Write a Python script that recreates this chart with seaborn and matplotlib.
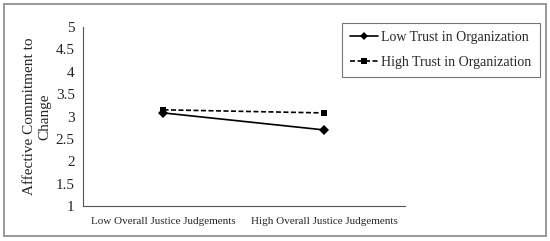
import pandas as pd
import matplotlib
matplotlib.use('Agg')
import matplotlib.pyplot as plt
import seaborn as sns
from matplotlib.patches import Rectangle
from matplotlib.ticker import FixedLocator
from matplotlib.lines import Line2D

# Data
categories = ['Low Overall Justice Judgements', 'High Overall Justice Judgements']
low_trust = [3.08, 2.70]
high_trust = [3.15, 3.08]
series_names = ['Low Trust in Organization', 'High Trust in Organization']

df = pd.DataFrame({
    'x': [0, 1, 0, 1],
    'y': low_trust + high_trust,
    'group': [series_names[0]] * 2 + [series_names[1]] * 2,
})

sns.set_style('white')
plt.rcParams['font.family'] = ['Liberation Serif', 'DejaVu Serif']

fig = plt.figure(figsize=(5.5, 2.41), dpi=100)
ax = fig.add_axes([0.151, 0.145, 0.585, 0.743])

sns.lineplot(data=df, x='x', y='y', hue='group', style='group',
             palette=['black', 'black'],
             dashes={series_names[0]: '', series_names[1]: (3, 1.5)},
             markers={series_names[0]: 'D', series_names[1]: 's'},
             markersize=5, linewidth=1.2, markeredgewidth=0,
             ax=ax, legend=False)

ax.set_xlim(-0.5, 1.5)
ax.set_ylim(1, 5)
ax.set_yticks([1, 1.5, 2, 2.5, 3, 3.5, 4, 4.5, 5])
ax.set_yticklabels(['1', '1.5', '2', '2.5', '3', '3.5', '4', '4.5', '5'], fontsize=11)
ax.xaxis.set_major_locator(FixedLocator([-0.5, 0.5, 1.5]))
ax.set_xticklabels(['', '', ''])
ax.set_xticks([0, 1], minor=True)
ax.set_xticklabels(categories, minor=True, fontsize=8)
ax.tick_params(axis='x', which='major', direction='out', length=4, width=0.8, color='#555555')
ax.tick_params(axis='x', which='minor', length=0, pad=8)
ax.tick_params(axis='y', direction='out', length=4, width=0.8, color='#555555', pad=2)

for s in ['top', 'right']:
    ax.spines[s].set_visible(False)
for s in ['left', 'bottom']:
    ax.spines[s].set_color('#555555')
    ax.spines[s].set_linewidth(0.8)

ax.set_xlabel('')
ax.set_ylabel('Affective Commitment to\nChange', fontsize=11, labelpad=3, linespacing=1.3)

handles = [
    Line2D([0], [0], color='black', lw=1.2, marker='D', markersize=4, markeredgewidth=0),
    Line2D([0], [0], color='black', lw=1.2, ls=(0, (3, 1.5)), marker='s', markersize=5, markeredgewidth=0),
]
leg = fig.legend(handles, series_names, loc='upper left', bbox_to_anchor=(0.622, 0.905),
                 fontsize=10, frameon=True, fancybox=False, handlelength=2.0,
                 handletextpad=0.2, borderpad=0.6, labelspacing=0.85, borderaxespad=0)
leg.get_frame().set_edgecolor('#555555')
leg.get_frame().set_linewidth(0.8)

fig.patches.append(Rectangle((0.008, 0.02), 0.984, 0.965, transform=fig.transFigure,
                             fill=False, edgecolor='#888888', linewidth=1.2))

fig.savefig('out.png', dpi=100)
